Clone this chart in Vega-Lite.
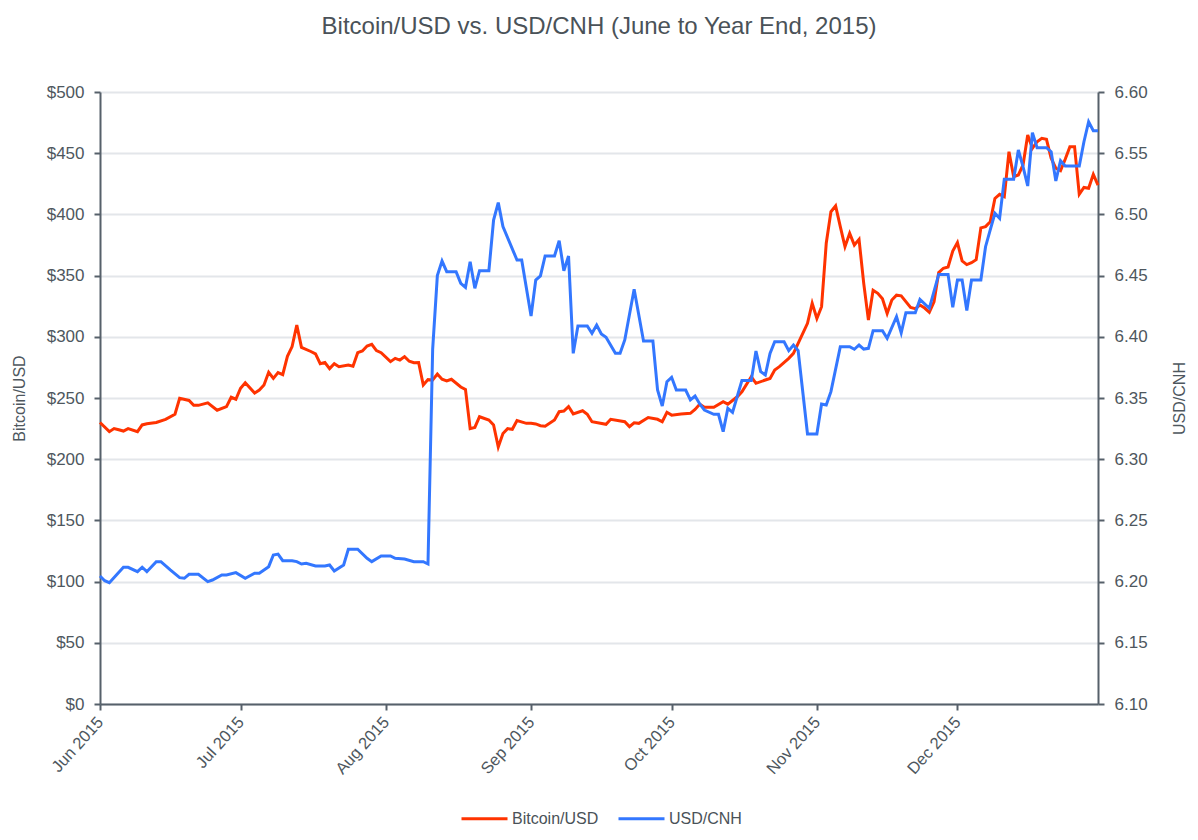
{
  "$schema": "https://vega.github.io/schema/vega-lite/v6.json",
  "width": 998,
  "height": 612,
  "autosize": {"type": "none"},
  "padding": {"left": 100, "top": 92, "right": 100, "bottom": 136},
  "background": "white",
  "title": {
    "text": "Bitcoin/USD vs. USD/CNH (June to Year End, 2015)",
    "fontSize": 24,
    "fontWeight": "normal",
    "color": "#4a5258",
    "anchor": "middle",
    "offset": 44
  },
  "datasets": {
    "btc": [
      {"date": "2015/06/01", "value": 230}, {"date": "2015/06/03", "value": 222.5}, {"date": "2015/06/04", "value": 225},
      {"date": "2015/06/05", "value": 224}, {"date": "2015/06/06", "value": 223}, {"date": "2015/06/07", "value": 225},
      {"date": "2015/06/09", "value": 222.5}, {"date": "2015/06/10", "value": 228}, {"date": "2015/06/11", "value": 229},
      {"date": "2015/06/13", "value": 230}, {"date": "2015/06/15", "value": 232.5}, {"date": "2015/06/17", "value": 236.7},
      {"date": "2015/06/18", "value": 249.7}, {"date": "2015/06/20", "value": 248}, {"date": "2015/06/21", "value": 244},
      {"date": "2015/06/22", "value": 244}, {"date": "2015/06/24", "value": 246}, {"date": "2015/06/26", "value": 240},
      {"date": "2015/06/28", "value": 243}, {"date": "2015/06/29", "value": 250.6}, {"date": "2015/06/30", "value": 249},
      {"date": "2015/07/01", "value": 258}, {"date": "2015/07/02", "value": 262.5}, {"date": "2015/07/04", "value": 254},
      {"date": "2015/07/05", "value": 256.5}, {"date": "2015/07/06", "value": 260.6}, {"date": "2015/07/07", "value": 271},
      {"date": "2015/07/08", "value": 266}, {"date": "2015/07/09", "value": 270.7}, {"date": "2015/07/10", "value": 269},
      {"date": "2015/07/11", "value": 284}, {"date": "2015/07/12", "value": 292}, {"date": "2015/07/13", "value": 309.6},
      {"date": "2015/07/14", "value": 291.4}, {"date": "2015/07/16", "value": 288}, {"date": "2015/07/17", "value": 286},
      {"date": "2015/07/18", "value": 278}, {"date": "2015/07/19", "value": 279}, {"date": "2015/07/20", "value": 274},
      {"date": "2015/07/21", "value": 278}, {"date": "2015/07/22", "value": 275.6}, {"date": "2015/07/24", "value": 277},
      {"date": "2015/07/25", "value": 276}, {"date": "2015/07/26", "value": 287}, {"date": "2015/07/27", "value": 288.4},
      {"date": "2015/07/28", "value": 292.5}, {"date": "2015/07/29", "value": 293.9}, {"date": "2015/07/30", "value": 288.7},
      {"date": "2015/07/31", "value": 287}, {"date": "2015/08/02", "value": 279.7}, {"date": "2015/08/03", "value": 282.4},
      {"date": "2015/08/04", "value": 281}, {"date": "2015/08/05", "value": 283.8}, {"date": "2015/08/06", "value": 280},
      {"date": "2015/08/07", "value": 278.8}, {"date": "2015/08/08", "value": 279}, {"date": "2015/08/09", "value": 260.6},
      {"date": "2015/08/10", "value": 265}, {"date": "2015/08/11", "value": 264.7}, {"date": "2015/08/12", "value": 269.6},
      {"date": "2015/08/13", "value": 265.3}, {"date": "2015/08/14", "value": 263.9}, {"date": "2015/08/15", "value": 265.3},
      {"date": "2015/08/17", "value": 259}, {"date": "2015/08/18", "value": 257}, {"date": "2015/08/19", "value": 225},
      {"date": "2015/08/20", "value": 226}, {"date": "2015/08/21", "value": 234.7}, {"date": "2015/08/23", "value": 232},
      {"date": "2015/08/24", "value": 228}, {"date": "2015/08/25", "value": 210}, {"date": "2015/08/26", "value": 221},
      {"date": "2015/08/27", "value": 225}, {"date": "2015/08/28", "value": 224.4}, {"date": "2015/08/29", "value": 231.5},
      {"date": "2015/08/31", "value": 229.3}, {"date": "2015/09/01", "value": 229.3}, {"date": "2015/09/02", "value": 228.8},
      {"date": "2015/09/03", "value": 227.4}, {"date": "2015/09/04", "value": 227}, {"date": "2015/09/06", "value": 232},
      {"date": "2015/09/07", "value": 238.8}, {"date": "2015/09/08", "value": 239.4}, {"date": "2015/09/09", "value": 243},
      {"date": "2015/09/10", "value": 237}, {"date": "2015/09/12", "value": 239.6}, {"date": "2015/09/13", "value": 236.7},
      {"date": "2015/09/14", "value": 230.6}, {"date": "2015/09/17", "value": 228.5}, {"date": "2015/09/18", "value": 232.6},
      {"date": "2015/09/21", "value": 230.6}, {"date": "2015/09/22", "value": 226.6}, {"date": "2015/09/23", "value": 229.8},
      {"date": "2015/09/24", "value": 229.3}, {"date": "2015/09/26", "value": 234}, {"date": "2015/09/28", "value": 232.6},
      {"date": "2015/09/29", "value": 230.6}, {"date": "2015/09/30", "value": 238.3}, {"date": "2015/10/01", "value": 236},
      {"date": "2015/10/03", "value": 237}, {"date": "2015/10/05", "value": 237.5}, {"date": "2015/10/06", "value": 240.7},
      {"date": "2015/10/07", "value": 245}, {"date": "2015/10/08", "value": 242.4}, {"date": "2015/10/10", "value": 242.5},
      {"date": "2015/10/12", "value": 247}, {"date": "2015/10/13", "value": 245}, {"date": "2015/10/15", "value": 251},
      {"date": "2015/10/16", "value": 255}, {"date": "2015/10/18", "value": 267.4}, {"date": "2015/10/19", "value": 262},
      {"date": "2015/10/21", "value": 264.7}, {"date": "2015/10/22", "value": 266}, {"date": "2015/10/23", "value": 272.9},
      {"date": "2015/10/24", "value": 275.6}, {"date": "2015/10/26", "value": 282.4}, {"date": "2015/10/27", "value": 286.5},
      {"date": "2015/10/28", "value": 294.7}, {"date": "2015/10/30", "value": 311}, {"date": "2015/10/31", "value": 327.4},
      {"date": "2015/11/01", "value": 315}, {"date": "2015/11/02", "value": 324.6}, {"date": "2015/11/03", "value": 376.4},
      {"date": "2015/11/04", "value": 402.2}, {"date": "2015/11/05", "value": 406.9}, {"date": "2015/11/06", "value": 390},
      {"date": "2015/11/07", "value": 373.6}, {"date": "2015/11/08", "value": 384.5}, {"date": "2015/11/09", "value": 375},
      {"date": "2015/11/10", "value": 379.6}, {"date": "2015/11/11", "value": 343.7}, {"date": "2015/11/12", "value": 313.7},
      {"date": "2015/11/13", "value": 338}, {"date": "2015/11/14", "value": 335.5}, {"date": "2015/11/15", "value": 331},
      {"date": "2015/11/16", "value": 319}, {"date": "2015/11/17", "value": 330}, {"date": "2015/11/18", "value": 334},
      {"date": "2015/11/19", "value": 333.5}, {"date": "2015/11/21", "value": 324}, {"date": "2015/11/22", "value": 323},
      {"date": "2015/11/23", "value": 326}, {"date": "2015/11/24", "value": 323.5}, {"date": "2015/11/25", "value": 320},
      {"date": "2015/11/26", "value": 328.5}, {"date": "2015/11/27", "value": 352.5}, {"date": "2015/11/28", "value": 356},
      {"date": "2015/11/29", "value": 357}, {"date": "2015/11/30", "value": 370}, {"date": "2015/12/01", "value": 377},
      {"date": "2015/12/02", "value": 362}, {"date": "2015/12/03", "value": 359}, {"date": "2015/12/04", "value": 360.5},
      {"date": "2015/12/05", "value": 363}, {"date": "2015/12/06", "value": 389}, {"date": "2015/12/07", "value": 390},
      {"date": "2015/12/08", "value": 394}, {"date": "2015/12/09", "value": 413}, {"date": "2015/12/10", "value": 416.4},
      {"date": "2015/12/11", "value": 414.5}, {"date": "2015/12/12", "value": 451.2}, {"date": "2015/12/13", "value": 430.8},
      {"date": "2015/12/14", "value": 432.2}, {"date": "2015/12/15", "value": 440.4}, {"date": "2015/12/16", "value": 464.9},
      {"date": "2015/12/17", "value": 454}, {"date": "2015/12/18", "value": 459.4}, {"date": "2015/12/19", "value": 462.2},
      {"date": "2015/12/20", "value": 461.3}, {"date": "2015/12/21", "value": 445.8}, {"date": "2015/12/22", "value": 437.7},
      {"date": "2015/12/23", "value": 435.7}, {"date": "2015/12/24", "value": 445}, {"date": "2015/12/25", "value": 455.3},
      {"date": "2015/12/26", "value": 455.3}, {"date": "2015/12/27", "value": 416.4}, {"date": "2015/12/28", "value": 422},
      {"date": "2015/12/29", "value": 421.3}, {"date": "2015/12/30", "value": 432.7}, {"date": "2015/12/31", "value": 424}
    ],
    "cnh": [
      {"date": "2015/06/01", "value": 6.2046}, {"date": "2015/06/02", "value": 6.2007}, {"date": "2015/06/03", "value": 6.1991},
      {"date": "2015/06/06", "value": 6.2117}, {"date": "2015/06/07", "value": 6.2117}, {"date": "2015/06/09", "value": 6.2081},
      {"date": "2015/06/10", "value": 6.2117}, {"date": "2015/06/11", "value": 6.2081}, {"date": "2015/06/13", "value": 6.2163},
      {"date": "2015/06/14", "value": 6.2163}, {"date": "2015/06/16", "value": 6.2095}, {"date": "2015/06/18", "value": 6.2032},
      {"date": "2015/06/19", "value": 6.2027}, {"date": "2015/06/20", "value": 6.206}, {"date": "2015/06/22", "value": 6.206},
      {"date": "2015/06/24", "value": 6.2}, {"date": "2015/06/25", "value": 6.2013}, {"date": "2015/06/27", "value": 6.2054},
      {"date": "2015/06/28", "value": 6.2054}, {"date": "2015/06/30", "value": 6.2073}, {"date": "2015/07/02", "value": 6.2027},
      {"date": "2015/07/04", "value": 6.2068}, {"date": "2015/07/05", "value": 6.2068}, {"date": "2015/07/07", "value": 6.2122},
      {"date": "2015/07/08", "value": 6.2217}, {"date": "2015/07/09", "value": 6.2225}, {"date": "2015/07/10", "value": 6.2171},
      {"date": "2015/07/12", "value": 6.2171}, {"date": "2015/07/13", "value": 6.2163}, {"date": "2015/07/14", "value": 6.2144},
      {"date": "2015/07/15", "value": 6.215}, {"date": "2015/07/17", "value": 6.2127}, {"date": "2015/07/19", "value": 6.2127},
      {"date": "2015/07/20", "value": 6.2136}, {"date": "2015/07/21", "value": 6.2087}, {"date": "2015/07/23", "value": 6.2136},
      {"date": "2015/07/24", "value": 6.2264}, {"date": "2015/07/26", "value": 6.2264}, {"date": "2015/07/28", "value": 6.219},
      {"date": "2015/07/29", "value": 6.2163}, {"date": "2015/07/31", "value": 6.2209}, {"date": "2015/08/02", "value": 6.2209},
      {"date": "2015/08/03", "value": 6.219}, {"date": "2015/08/05", "value": 6.2185}, {"date": "2015/08/07", "value": 6.2163},
      {"date": "2015/08/09", "value": 6.2163}, {"date": "2015/08/10", "value": 6.2144}, {"date": "2015/08/11", "value": 6.39},
      {"date": "2015/08/12", "value": 6.45}, {"date": "2015/08/13", "value": 6.4619}, {"date": "2015/08/14", "value": 6.4532},
      {"date": "2015/08/16", "value": 6.4532}, {"date": "2015/08/17", "value": 6.4437}, {"date": "2015/08/18", "value": 6.4404},
      {"date": "2015/08/19", "value": 6.4614}, {"date": "2015/08/20", "value": 6.4396}, {"date": "2015/08/21", "value": 6.454},
      {"date": "2015/08/23", "value": 6.454}, {"date": "2015/08/24", "value": 6.4954}, {"date": "2015/08/25", "value": 6.5096},
      {"date": "2015/08/26", "value": 6.49}, {"date": "2015/08/29", "value": 6.4627}, {"date": "2015/08/30", "value": 6.4627},
      {"date": "2015/09/01", "value": 6.417}, {"date": "2015/09/02", "value": 6.4464}, {"date": "2015/09/03", "value": 6.4497},
      {"date": "2015/09/04", "value": 6.466}, {"date": "2015/09/06", "value": 6.466}, {"date": "2015/09/07", "value": 6.4785},
      {"date": "2015/09/08", "value": 6.454}, {"date": "2015/09/09", "value": 6.466}, {"date": "2015/09/10", "value": 6.3865},
      {"date": "2015/09/11", "value": 6.4088}, {"date": "2015/09/13", "value": 6.4088}, {"date": "2015/09/14", "value": 6.4029},
      {"date": "2015/09/15", "value": 6.4096}, {"date": "2015/09/16", "value": 6.4023}, {"date": "2015/09/17", "value": 6.3996},
      {"date": "2015/09/19", "value": 6.3865}, {"date": "2015/09/20", "value": 6.3865}, {"date": "2015/09/21", "value": 6.3974},
      {"date": "2015/09/23", "value": 6.4388}, {"date": "2015/09/25", "value": 6.3966}, {"date": "2015/09/27", "value": 6.3966},
      {"date": "2015/09/28", "value": 6.3565}, {"date": "2015/09/29", "value": 6.3435}, {"date": "2015/09/30", "value": 6.3633},
      {"date": "2015/10/01", "value": 6.3669}, {"date": "2015/10/02", "value": 6.3565}, {"date": "2015/10/04", "value": 6.3565},
      {"date": "2015/10/05", "value": 6.3484}, {"date": "2015/10/06", "value": 6.3516}, {"date": "2015/10/07", "value": 6.3451},
      {"date": "2015/10/08", "value": 6.3402}, {"date": "2015/10/10", "value": 6.3367}, {"date": "2015/10/11", "value": 6.3367},
      {"date": "2015/10/12", "value": 6.3225}, {"date": "2015/10/13", "value": 6.3416}, {"date": "2015/10/14", "value": 6.3383},
      {"date": "2015/10/16", "value": 6.3642}, {"date": "2015/10/18", "value": 6.3642}, {"date": "2015/10/19", "value": 6.3884},
      {"date": "2015/10/20", "value": 6.3716}, {"date": "2015/10/21", "value": 6.3688}, {"date": "2015/10/22", "value": 6.3865},
      {"date": "2015/10/23", "value": 6.396}, {"date": "2015/10/25", "value": 6.396}, {"date": "2015/10/26", "value": 6.3887},
      {"date": "2015/10/27", "value": 6.3933}, {"date": "2015/10/28", "value": 6.3887}, {"date": "2015/10/30", "value": 6.3206},
      {"date": "2015/11/01", "value": 6.3206}, {"date": "2015/11/02", "value": 6.3451}, {"date": "2015/11/03", "value": 6.3443},
      {"date": "2015/11/04", "value": 6.3552}, {"date": "2015/11/06", "value": 6.3919}, {"date": "2015/11/08", "value": 6.3919},
      {"date": "2015/11/09", "value": 6.3898}, {"date": "2015/11/10", "value": 6.3933}, {"date": "2015/11/11", "value": 6.39},
      {"date": "2015/11/12", "value": 6.3906}, {"date": "2015/11/13", "value": 6.405}, {"date": "2015/11/15", "value": 6.405},
      {"date": "2015/11/16", "value": 6.3988}, {"date": "2015/11/18", "value": 6.4164}, {"date": "2015/11/19", "value": 6.4033},
      {"date": "2015/11/20", "value": 6.4197}, {"date": "2015/11/22", "value": 6.4197}, {"date": "2015/11/23", "value": 6.4306},
      {"date": "2015/11/25", "value": 6.4233}, {"date": "2015/11/27", "value": 6.451}, {"date": "2015/11/29", "value": 6.451},
      {"date": "2015/11/30", "value": 6.4241}, {"date": "2015/12/01", "value": 6.4464}, {"date": "2015/12/02", "value": 6.4464},
      {"date": "2015/12/03", "value": 6.4215}, {"date": "2015/12/04", "value": 6.4464}, {"date": "2015/12/06", "value": 6.4464},
      {"date": "2015/12/07", "value": 6.4736}, {"date": "2015/12/08", "value": 6.4873}, {"date": "2015/12/09", "value": 6.5009},
      {"date": "2015/12/10", "value": 6.4968}, {"date": "2015/12/11", "value": 6.5287}, {"date": "2015/12/13", "value": 6.5287},
      {"date": "2015/12/14", "value": 6.5526}, {"date": "2015/12/15", "value": 6.539}, {"date": "2015/12/16", "value": 6.5232},
      {"date": "2015/12/17", "value": 6.5668}, {"date": "2015/12/18", "value": 6.5545}, {"date": "2015/12/20", "value": 6.5545},
      {"date": "2015/12/21", "value": 6.5512}, {"date": "2015/12/22", "value": 6.5273}, {"date": "2015/12/23", "value": 6.5439},
      {"date": "2015/12/24", "value": 6.5395}, {"date": "2015/12/27", "value": 6.5395}, {"date": "2015/12/28", "value": 6.5594},
      {"date": "2015/12/29", "value": 6.5757}, {"date": "2015/12/30", "value": 6.5684}, {"date": "2015/12/31", "value": 6.5684}
    ]
  },
  "encoding": {
    "x": {
      "field": "date",
      "type": "temporal",
      "scale": {
        "domain": [
          {"year": 2015, "month": 6, "date": 1},
          {"year": 2015, "month": 12, "date": 31}
        ],
        "nice": false
      },
      "axis": {
        "title": null,
        "format": "%b %Y",
        "tickCount": {"interval": "month", "step": 1},
        "labelAngle": -48,
        "labelFontSize": 16.5,
        "labelPadding": 9,
        "grid": false
      }
    }
  },
  "layer": [
    {
      "data": {"name": "btc"},
      "mark": {"type": "line", "strokeWidth": 3},
      "encoding": {
        "y": {
          "field": "value",
          "type": "quantitative",
          "scale": {"domain": [0, 500], "nice": false},
          "axis": {
            "title": "Bitcoin/USD",
            "orient": "left",
            "format": "$.0f",
            "values": [0, 50, 100, 150, 200, 250, 300, 350, 400, 450, 500],
            "grid": true,
            "titlePadding": 19
          }
        },
        "color": {
          "datum": "Bitcoin/USD",
          "type": "nominal",
          "scale": {"domain": ["Bitcoin/USD", "USD/CNH"], "range": ["#ff3300", "#3377ff"]},
          "legend": {
            "title": null,
            "orient": "none",
            "legendX": 360,
            "legendY": 702,
            "direction": "horizontal",
            "symbolType": "stroke",
            "symbolSize": 2116,
            "symbolStrokeWidth": 3,
            "labelFontSize": 16,
            "labelColor": "#4a5258",
            "labelOffset": 3,
            "columnPadding": 13
          }
        }
      }
    },
    {
      "data": {"name": "cnh"},
      "mark": {"type": "line", "strokeWidth": 3},
      "encoding": {
        "y": {
          "field": "value",
          "type": "quantitative",
          "scale": {"domain": [6.1, 6.6], "nice": false, "zero": false},
          "axis": {
            "title": "USD/CNH",
            "orient": "right",
            "format": ".2f",
            "values": [6.1, 6.15, 6.2, 6.25, 6.3, 6.35, 6.4, 6.45, 6.5, 6.55, 6.6],
            "grid": false,
            "titleAngle": 270,
            "titlePadding": 40
          }
        },
        "color": {"datum": "USD/CNH", "type": "nominal"}
      }
    }
  ],
  "resolve": {"scale": {"y": "independent"}},
  "config": {
    "font": "Liberation Sans",
    "view": {"stroke": null},
    "axis": {
      "domainColor": "#56606a",
      "domainWidth": 2,
      "tickColor": "#56606a",
      "tickWidth": 2,
      "tickSize": 6,
      "labelFontSize": 17,
      "labelColor": "#4e575e",
      "labelPadding": 10,
      "titleFontSize": 16,
      "titleFontWeight": "normal",
      "titleColor": "#4e575e",
      "gridColor": "#e3e6ea",
      "gridWidth": 2
    }
  }
}
